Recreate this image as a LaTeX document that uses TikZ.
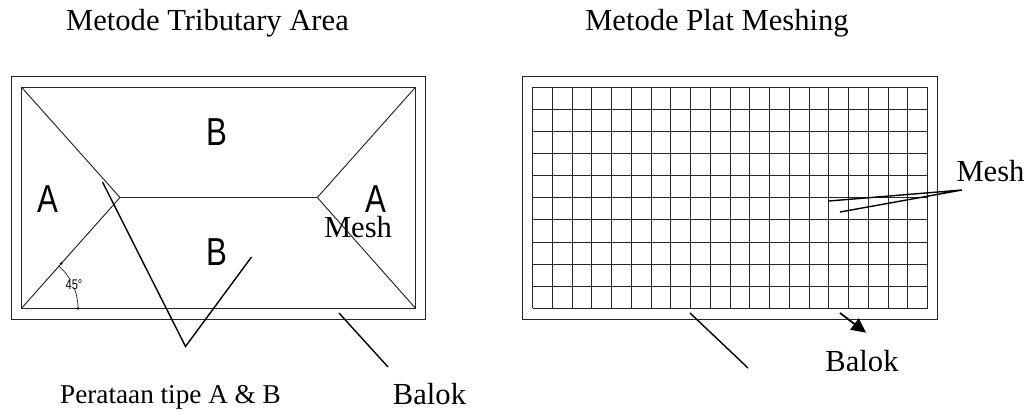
\documentclass[tikz,border=0pt]{standalone}
\usepackage{fontspec}
\setmainfont{Liberation Serif}
\newfontfamily\platfont[FakeStretch=.8]{Liberation Sans}
\usetikzlibrary{arrows.meta}
\tikzset{
	beam/.style={draw=black!85,line width=.95pt},
	pointer/.style={draw=black,line width=1.4pt},
	caption/.style={font=\fontsize{30.6}{34}\selectfont,inner sep=0pt,anchor=base},
	zone/.style={font=\platfont\fontsize{39}{42}\selectfont,inner sep=0pt,anchor=base}
}
\begin{document}
\begin{tikzpicture}[x=1pt,y=-1pt]
	\useasboundingbox (0,0) rectangle (1028,411);
	
	% tributary area
	\draw[beam] (11.3,76) rectangle (425.7,319.3);
	\draw[beam] (21.3,87) rectangle (415.7,308.5);
	\coordinate (ridgeL) at (120,197.5);
	\coordinate (ridgeR) at (317.3,197.5);
	\draw[beam] (21.3,87) -- (ridgeL) -- (21.3,308.5);
	\draw[beam] (415.7,87) -- (ridgeR) -- (415.7,308.5);
	\draw[beam] (ridgeL) -- (ridgeR);
	\draw[beam,line width=.7pt] (78,308.5) arc (0:-49:56.7);
	\fill (78,308.5) circle (1.3);
	\fill (61.3,263.5) circle (1.3);
	\node[font=\platfont\fontsize{14}{15}\selectfont,inner sep=0pt,anchor=base,fill=white] (angle) at (74,289.3) {45°};
	
	\node[zone] (zoneAl) at (47.5,212.7) {A};
	\node[zone] (zoneBt) at (217,145.7) {B};
	\node[zone] (zoneBb) at (217,265.7) {B};
	\node[zone] (zoneAr) at (375.5,212.7) {A};
	\node[caption] (meshL) at (358,238) {Mesh};
	
	\coordinate (peratA) at (102.5,182);
	\coordinate (peratV) at (185.5,346.5);
	\coordinate (peratB) at (251.5,257);
	\draw[pointer] (peratA) -- (peratV) -- (peratB);
	\coordinate (balokLa) at (339,313);
	\coordinate (balokLb) at (388,367);
	\draw[pointer] (balokLa) -- (balokLb);
	
	\node[caption] (titleL) at (207.5,30.7) {Metode Tributary Area};
	\node[caption,font=\fontsize{27.2}{30}\selectfont] (perataan) at (170.5,403.3) {Perataan tipe A \& B};
	\node[caption] (balokL) at (429.5,405) {Balok};
	
	% plat meshing
	\draw[beam] (522.7,76) rectangle (937,319.3);
	\foreach \i in {0,...,20}
		\draw[beam] ({532.5+\i*19.75},87) -- ({532.5+\i*19.75},308.5);
	\foreach \j in {0,...,10}
		\draw[beam] (532.5,{87+\j*22.15}) -- (927.5,{87+\j*22.15});
	
	\coordinate (meshV) at (962,190);
	\coordinate (meshA) at (829,201);
	\coordinate (meshB) at (840,212);
	\draw[pointer] (meshA) -- (meshV) -- (meshB);
	\coordinate (balokRa) at (690,313);
	\coordinate (balokRb) at (748,368);
	\draw[pointer] (balokRa) -- (balokRb);
	\coordinate (arrowA) at (840,313);
	\coordinate (arrowB) at (866,332.7);
	\draw[pointer,line width=1.8pt,-{Triangle[length=14.5pt,width=14pt]}] (arrowA) -- (arrowB);
	
	\node[caption] (titleR) at (717,30.7) {Metode Plat Meshing};
	\node[caption] (meshR) at (990.5,181.7) {Mesh};
	\node[caption] (balokR) at (862,371.7) {Balok};
\end{tikzpicture}
\end{document}
